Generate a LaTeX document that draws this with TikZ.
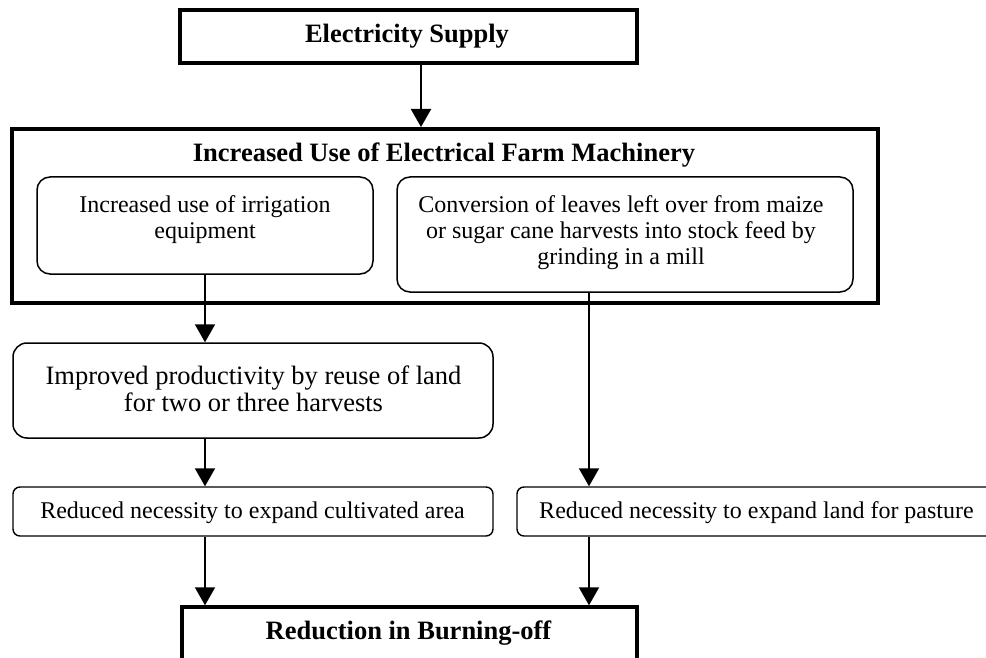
\documentclass[tikz,border=0pt]{standalone}
\usepackage{fontspec}
\setmainfont{Liberation Serif}
\usetikzlibrary{arrows.meta}
\tikzset{
  thickbox/.style={draw, line width=3.5pt, inner sep=0pt, fill=white},
  roundbox/.style={draw, line width=1.5pt, rounded corners=13pt, inner sep=0pt},
  smallround/.style={draw, line width=1.4pt, rounded corners=7pt, inner sep=0pt},
  titletxt/.style={inner sep=0pt, font=\fontsize{26.5}{28}\selectfont\bfseries},
  bodytxt/.style={inner sep=0pt, align=center, font=\fontsize{24}{26}\selectfont},
  bigtxt/.style={inner sep=0pt, align=center, font=\fontsize{26.5}{27}\selectfont},
  arr/.style={line width=2pt, -{Triangle[length=18pt,width=20pt]}},
}
\begin{document}
\begin{tikzpicture}[x=1pt,y=-1pt]
\useasboundingbox (0,0) rectangle (986,658);
\clip (0,0) rectangle (986,658);
% top box
\node[thickbox, minimum width=457pt, minimum height=53pt] (top) at (408.5,36.5) {};
\node[titletxt] (toptxt) at (407,36) {Electricity Supply};
% big box
\node[thickbox, line width=4pt, minimum width=866pt, minimum height=174pt] (big) at (445,216) {};
\node[titletxt] (bigtxt) at (444,155) {Increased Use of Electrical Farm Machinery};
% inner boxes
\node[roundbox, minimum width=336pt, minimum height=97pt] (inL) at (205,225.5) {};
\node[bodytxt] (inLtxt) at (205,220) {Increased use of irrigation\\equipment};
\node[roundbox, minimum width=456pt, minimum height=115pt] (inR) at (625,234.5) {};
\node[bodytxt] (inRtxt) at (621,233) {Conversion of leaves left over from maize\\or sugar cane harvests into stock feed by\\grinding in a mill};
% improved productivity
\node[roundbox, rounded corners=14pt, minimum width=480pt, minimum height=95pt] (imp) at (253,390.5) {};
\node[bigtxt] (imptxt) at (253.5,388.5) {Improved productivity by reuse of land\\for two or three harvests};
% reduced boxes
\node[smallround, minimum width=480pt, minimum height=49pt] (redL) at (253,511.5) {};
\node[bodytxt] (redLtxt) at (252.5,513) {Reduced necessity to expand cultivated area};
\node[smallround, minimum width=486pt, minimum height=49pt] (redR) at (760,511.5) {};
\node[bodytxt] (redRtxt) at (756.5,513) {Reduced necessity to expand land for pasture};
% bottom box
\node[thickbox, minimum width=455pt, minimum height=56pt] (bot) at (409.5,635) {};
\node[titletxt] (bottxt) at (408.5,633) {Reduction in Burning-off};
% arrows
\draw[arr] ([xshift=12.5pt]top.south) -- ([xshift=12.5pt]top.south |- big.north);
\draw[arr] (inL.south) -- (inL.south |- imp.north);
\draw[arr] ([xshift=-36pt]inR.south) -- ([xshift=-36pt]inR.south |- redR.north);
\draw[arr] ([xshift=-48pt]imp.south) -- ([xshift=-48pt]imp.south |- redL.north);
\draw[arr] ([xshift=-48pt]redL.south) -- ([xshift=-48pt]redL.south |- bot.north);
\draw[arr] ([xshift=-171pt]redR.south) -- ([xshift=-171pt]redR.south |- bot.north);
\end{tikzpicture}
\end{document}
